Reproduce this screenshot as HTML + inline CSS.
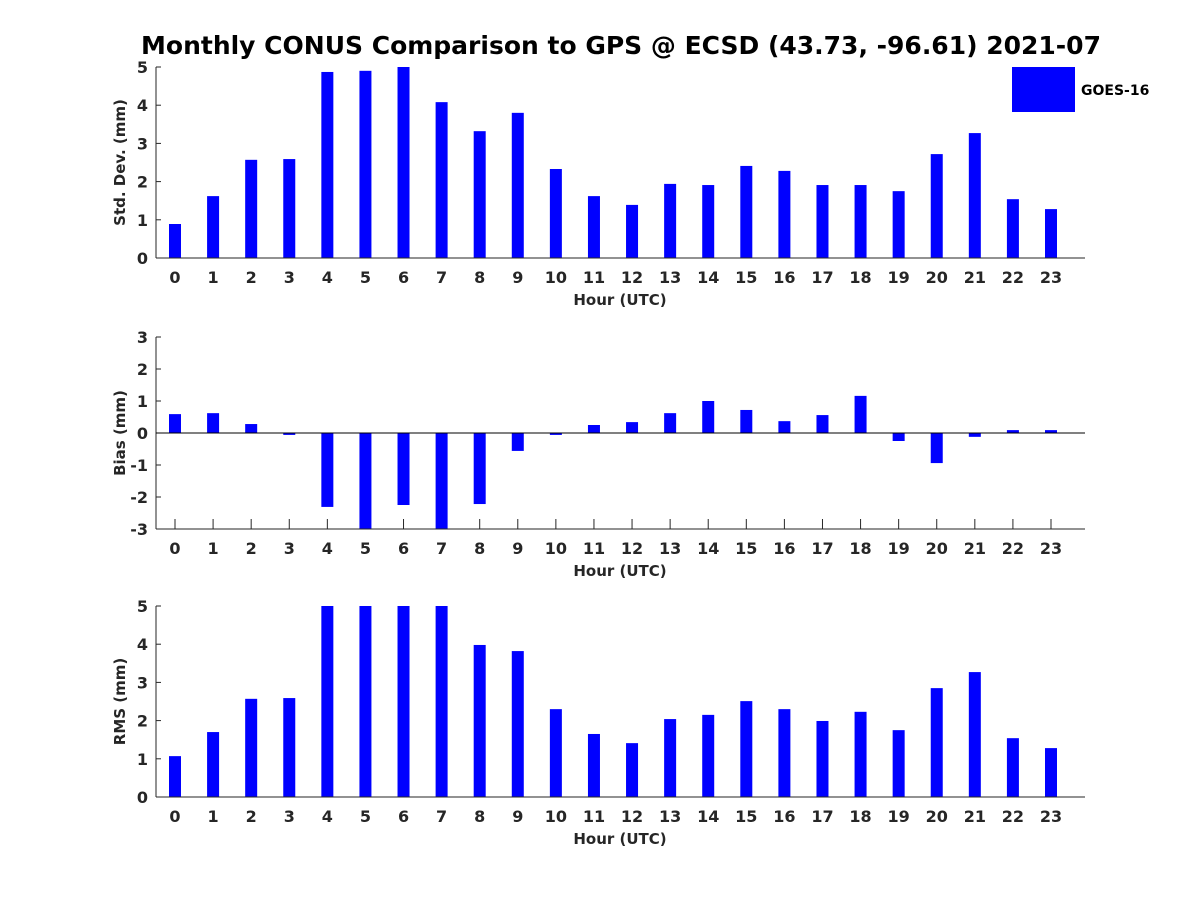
<!DOCTYPE html>
<html><head><meta charset="utf-8"><style>
body{margin:0;background:#fff;}
svg text{font-family:"DejaVu Sans","Liberation Sans",sans-serif;font-weight:bold;fill:#262626;}
</style></head><body>
<svg id="chart" width="1200" height="900" xmlns="http://www.w3.org/2000/svg">
<rect width="1200" height="900" fill="#fff"/>
<text x="621" y="54" text-anchor="middle" font-size="25" style="fill:#000">Monthly CONUS Comparison to GPS @ ECSD (43.73, -96.61) 2021-07</text>
<g>
<rect x="1012" y="67" width="63" height="45" fill="#0000ff"/>
<text x="1081" y="95" font-size="14" style="fill:#000">GOES-16</text>
</g>
</svg>
<script>
const hours = [0,1,2,3,4,5,6,7,8,9,10,11,12,13,14,15,16,17,18,19,20,21,22,23];
const stdValues = [0.89,1.62,2.57,2.59,4.87,4.9,5.0,4.08,3.32,3.80,2.33,1.62,1.39,1.94,1.91,2.41,2.28,1.91,1.91,1.75,2.72,3.27,1.54,1.28];
const biasValues = [0.59,0.62,0.28,-0.06,-2.31,-3.2,-2.25,-3.2,-2.22,-0.56,-0.06,0.25,0.34,0.62,1.0,0.72,0.37,0.56,1.16,-0.25,-0.94,-0.12,0.09,0.09];
const rmsValues = [1.07,1.70,2.57,2.59,5.2,5.2,5.2,5.2,3.98,3.82,2.30,1.65,1.41,2.04,2.15,2.51,2.30,1.99,2.23,1.75,2.85,3.27,1.54,1.28];
const stdTicks = [0,1,2,3,4,5];
const biasTicks = [-3,-2,-1,0,1,2,3];
const rmsTicks = [0,1,2,3,4,5];

const NS = "http://www.w3.org/2000/svg";
const svg = document.getElementById('chart');
function mk(tag, attrs, parent){
  const e = document.createElementNS(NS, tag);
  for (const k in attrs) e.setAttribute(k, attrs[k]);
  (parent||svg).appendChild(e);
  return e;
}
const X0 = 156, X1 = 1085;
function xScale(h){ return 175 + h * (1051 - 175) / 23; }

function panel(name, top, bottom, ymin, ymax, ticks, values, ylabel){
  const g = mk('g', {});
  
  
  const y = v => bottom - (v - ymin) / (ymax - ymin) * (bottom - top);
  ticks.forEach(t => {
    mk('line', {x1: X0, y1: y(t), x2: X0 + 5, y2: y(t), stroke: '#262626'}, g);
    const tx = mk('text', {x: X0 - 8, y: y(t) + 6, 'text-anchor': 'end', 'font-size': 16}, g);
    tx.textContent = t;
    
    
  });
  hours.forEach(h => {
    mk('line', {x1: xScale(h), y1: bottom, x2: xScale(h), y2: bottom - 10, stroke: '#262626'}, g);
    const tx = mk('text', {x: xScale(h), y: bottom + 25, 'text-anchor': 'middle', 'font-size': 16}, g);
    tx.textContent = h;
    
    
  });
  const clip = mk('clipPath', {id: 'clip-' + name}, g);
  mk('rect', {x: X0, y: top, width: X1 - X0, height: bottom - top}, clip);
  const bars = mk('g', {'clip-path': 'url(#clip-' + name + ')'}, g);
  values.forEach((v, i) => {
    const x = xScale(hours[i]);
    const y0 = y(Math.max(0, ymin)), y1 = y(v);
    const r = mk('rect', {x: x - 6, y: Math.min(y0, y1), width: 12, height: Math.abs(y1 - y0), fill: '#0000ff'}, bars);
    
    
  });
  const ax = mk('line', {x1: X0, y1: bottom, x2: X1, y2: bottom, stroke: '#262626', 'stroke-width': 1}, g);
  
  
  const ay = mk('line', {x1: X0, y1: top, x2: X0, y2: bottom, stroke: '#262626', 'stroke-width': 1}, g);
  
  
  if (ymin < 0) {
    const z = mk('line', {x1: X0, y1: y(0), x2: X1, y2: y(0), stroke: '#000', 'stroke-width': 1}, g);
    
    
  }
  const xt = mk('text', {x: 620, y: bottom + 47, 'text-anchor': 'middle', 'font-size': 15}, g);
  xt.textContent = 'Hour (UTC)';
  
  
  const cy = (top + bottom) / 2;
  const yt = mk('text', {x: 0, y: 0, 'text-anchor': 'middle', 'font-size': 15, transform: 'translate(125,' + cy + ') rotate(-90)'}, g);
  yt.textContent = ylabel;
  
  
}
panel('std', 67, 258, 0, 5, stdTicks, stdValues, 'Std. Dev. (mm)');
panel('bias', 337, 529, -3, 3, biasTicks, biasValues, 'Bias (mm)');
panel('rms', 606, 797, 0, 5, rmsTicks, rmsValues, 'RMS (mm)');
</script>
</body></html>
